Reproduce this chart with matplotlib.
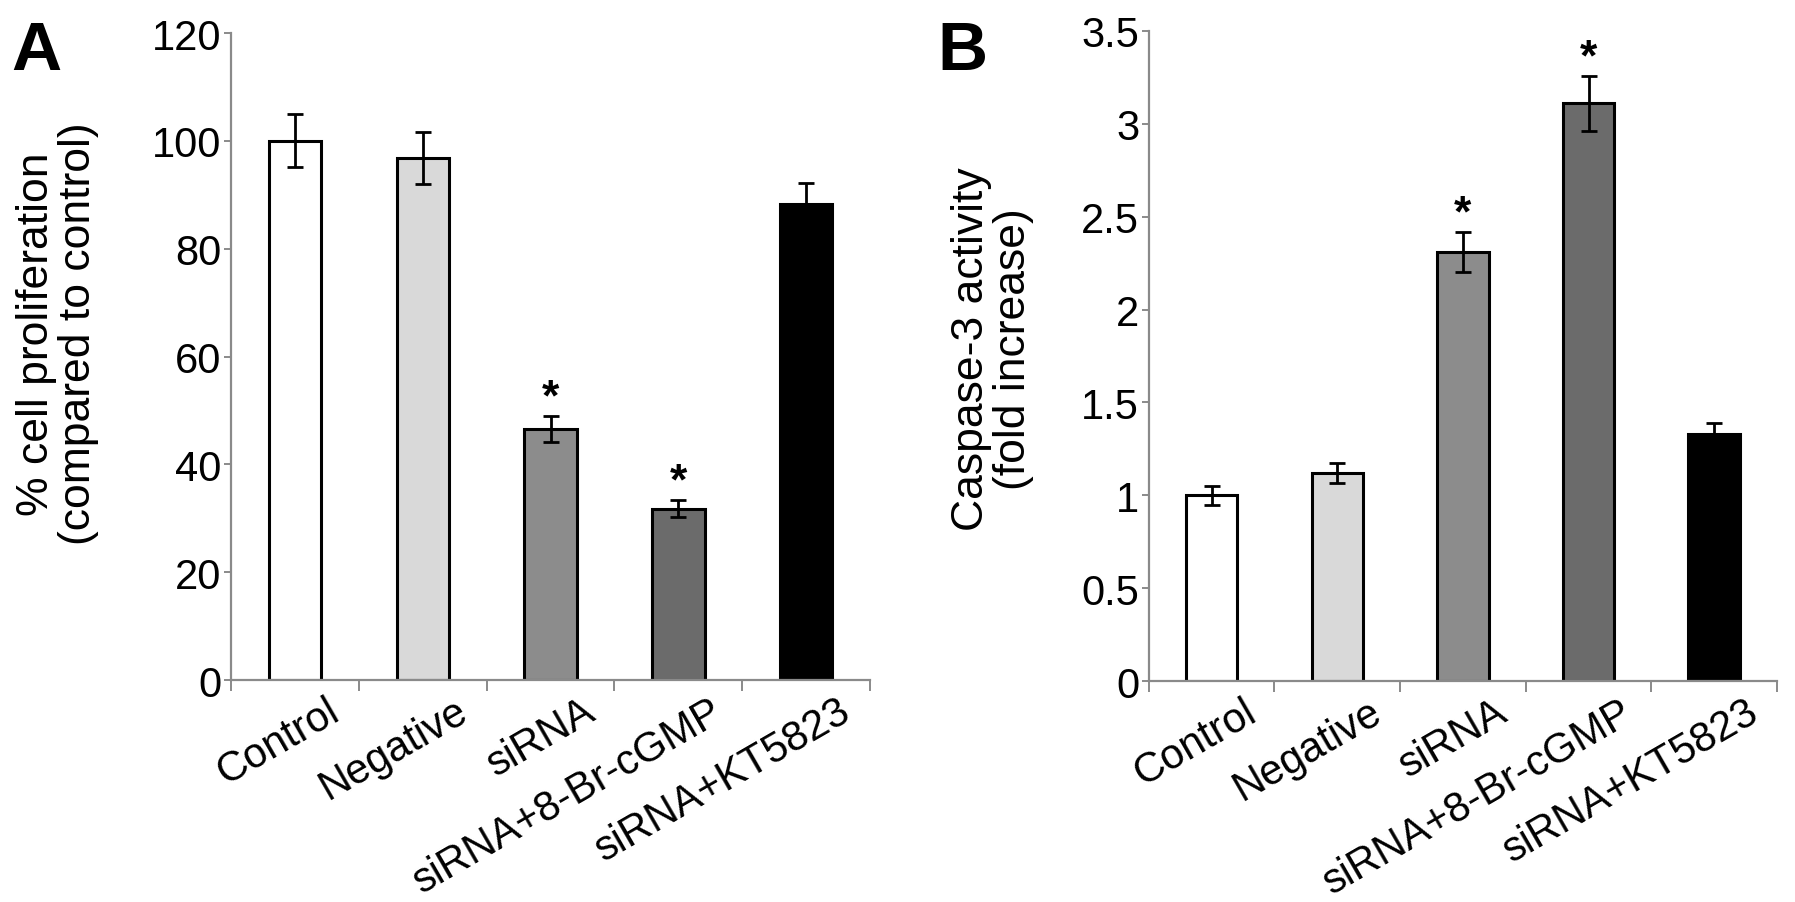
import matplotlib
matplotlib.use("Agg")
import matplotlib.pyplot as plt
import matplotlib.transforms as mtransforms
import numpy as np

plt.rcParams['font.family'] = ['Liberation Sans', 'DejaVu Sans']

groups = ["Control", "Negative", "siRNA", "siRNA+8-Br-cGMP", "siRNA+KT5823"]
bar_colors = ["#ffffff", "#d9d9d9", "#8c8c8c", "#6b6b6b", "#000000"]

prolif = [100.0, 96.8, 46.6, 31.8, 88.2]
prolif_err = [4.9, 4.8, 2.4, 1.6, 4.0]
prolif_sig = [False, False, True, True, False]

caspase = [1.0, 1.12, 2.31, 3.11, 1.33]
caspase_err = [0.05, 0.055, 0.11, 0.15, 0.06]
caspase_sig = [False, False, True, True, False]

GRAY = "#8a8a8a"


def draw_panel(ax, vals, errs, sig, ylim, yticks, yticklabels):
    x = np.arange(len(groups))
    ax.bar(x, vals, width=0.41, color=bar_colors, edgecolor="black",
           linewidth=2.2, zorder=2)
    ax.errorbar(x, vals, yerr=errs, fmt="none", ecolor="black",
                elinewidth=2.0, capsize=6, capthick=2.0, zorder=3)
    for xi, v, e, s in zip(x, vals, errs, sig):
        if s:
            ax.annotate("*", (xi, v + e), xytext=(0, 13), textcoords="offset points",
                        ha="center", va="center", fontsize=32, fontweight="bold")

    ax.set_xlim(-0.5, len(groups) - 0.5)
    ax.set_ylim(*ylim)
    ax.set_yticks(yticks)
    ax.set_yticklabels(yticklabels)
    for side in ("top", "right"):
        ax.spines[side].set_visible(False)
    for side in ("left", "bottom"):
        ax.spines[side].set_color(GRAY)
        ax.spines[side].set_linewidth(1.6)
    ax.tick_params(axis="y", direction="out", length=5, width=1.4, color=GRAY,
                   labelsize=30, pad=2)

    # boundary ticks between categories, labels placed by hand
    ax.set_xticks(x)
    ax.set_xticklabels([])
    ax.tick_params(axis="x", which="major", length=0)
    ax.set_xticks(np.arange(-0.5, len(groups), 1.0), minor=True)
    ax.tick_params(axis="x", which="minor", direction="out", length=8, width=1.4,
                   color=GRAY)

    trans = mtransforms.blended_transform_factory(ax.transData, ax.transAxes)
    off = mtransforms.ScaledTranslation(30 / 72, -20 / 72, ax.figure.dpi_scale_trans)
    for xi, name in zip(x, groups):
        ax.text(xi, 0, name, transform=trans + off, rotation=30, ha="right",
                va="center", rotation_mode="anchor", fontsize=30)


fig = plt.figure(figsize=(17.95, 9.03), dpi=100)
axA = fig.add_axes([0.1287, 0.2458, 0.356, 0.7165])
axB = fig.add_axes([0.6400, 0.2447, 0.350, 0.7199])

draw_panel(axA, prolif, prolif_err, prolif_sig, (0, 120),
           [0, 20, 40, 60, 80, 100, 120], ["0", "20", "40", "60", "80", "100", "120"])
draw_panel(axB, caspase, caspase_err, caspase_sig, (0, 3.5),
           [0, 0.5, 1, 1.5, 2, 2.5, 3, 3.5], ["0", "0.5", "1", "1.5", "2", "2.5", "3", "3.5"])

fig.text(0.032, 0.63, "% cell proliferation\n(compared to control)", rotation=90,
         ha="center", va="center", ma="center", fontsize=32, linespacing=1.05)
fig.text(0.553, 0.613, "Caspase-3 activity\n(fold increase)", rotation=90,
         ha="center", va="center", ma="center", fontsize=32, linespacing=1.05)

fig.text(0.006, 0.9225, "A", fontsize=50, fontweight="bold", ha="left", va="baseline")
fig.text(0.522, 0.9225, "B", fontsize=50, fontweight="bold", ha="left", va="baseline")

fig.savefig("out.png", dpi=100, facecolor="white")
